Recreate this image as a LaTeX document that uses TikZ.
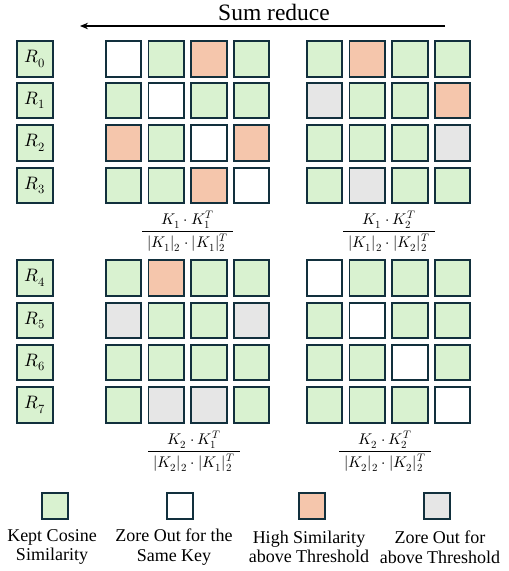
\documentclass[tikz,border=0pt]{standalone}
\usepackage{unicode-math}
\setmainfont{Liberation Serif}
\setmathfont{Latin Modern Math}
\usetikzlibrary{arrows.meta}
\definecolor{cG}{HTML}{D9F2D0}
\definecolor{cO}{HTML}{F5C6AC}
\definecolor{cX}{HTML}{E6E6E6}
\definecolor{cW}{HTML}{FFFFFF}
\definecolor{edgec}{HTML}{12303D}
\tikzset{
  cell/.style={draw=edgec, line width=1.9pt, minimum size=35.5pt, inner sep=0pt, fill=#1},
  lcell/.style={draw=edgec, line width=1.6pt, minimum size=26pt, inner sep=0pt, fill=#1},
  rlab/.style={font=\fontsize{18}{20}\selectfont},
  fracpart/.style={font=\fontsize{15.5}{18}\selectfont, anchor=base, inner sep=0pt},
  fracbar/.style={line width=0.8pt},
  legtxt/.style={font=\fontsize{18}{19.5}\selectfont, align=center},
}
\begin{document}
\begin{tikzpicture}[x=1pt,y=-1pt]
\useasboundingbox (0,0) rectangle (509,571);
% title and arrow
\node[font=\fontsize{23.5}{26}\selectfont] (title) at (274,12) {Sum reduce};
\coordinate (arrS) at (445,26);
\coordinate (arrE) at (80,26);
\draw[line width=1.2pt, -{Stealth[length=8pt,width=6.5pt]}] (arrS) -- (arrE);
% row labels
\foreach \r/\y in {0/59,1/100.5,2/143,3/185.5,4/278,5/320.5,6/362.5,7/405}{
  \node[cell=cG, rlab] (R\r) at (35,\y) {$R_{\r}$};
}
% grids
\foreach \r/\y/\a/\b/\c/\d/\e/\f/\g/\h in {
  0/59/cW/cG/cO/cG/cG/cO/cG/cG,
  1/100.5/cG/cW/cG/cG/cX/cG/cG/cO,
  2/143/cO/cG/cW/cO/cG/cG/cG/cX,
  3/185.5/cG/cG/cO/cW/cG/cX/cG/cG,
  4/278/cG/cO/cG/cG/cW/cG/cG/cG,
  5/320.5/cX/cG/cG/cX/cG/cW/cG/cG,
  6/362.5/cG/cG/cG/cG/cG/cG/cW/cG,
  7/405/cG/cX/cX/cG/cG/cG/cG/cW}{
  \node[cell=\a] (L\r-0) at (123.5,\y) {};
  \node[cell=\b] (L\r-1) at (166.2,\y) {};
  \node[cell=\c] (L\r-2) at (208.8,\y) {};
  \node[cell=\d] (L\r-3) at (251.5,\y) {};
  \node[cell=\e] (G\r-0) at (324.5,\y) {};
  \node[cell=\f] (G\r-1) at (367.2,\y) {};
  \node[cell=\g] (G\r-2) at (409.8,\y) {};
  \node[cell=\h] (G\r-3) at (452.5,\y) {};
}
% fractions: numerator, bar, denominator
\foreach \n/\cx/\by/\hw/\a/\b in {11/187.5/231/45.5/1/1, 12/389/231/46/1/2, 21/194/451/46/2/1, 22/385/451/46/2/2}{
  \node[fracpart] (num\n) at (\cx,\by-6.5) {$K_{\a}\cdot K_{\b}^{T}$};
  \node[fracpart] (den\n) at (\cx,\by+16.5) {$|K_{\a}|_{2}\cdot |K_{\b}|_{2}^{T}$};
  \coordinate (barL\n) at (\cx-\hw,\by);
  \coordinate (barR\n) at (\cx+\hw,\by);
  \draw[fracbar] (barL\n) -- (barR\n);
}
% legend
\node[lcell=cG] (lg1) at (55,506) {};
\node[lcell=cW] (lg2) at (180,506) {};
\node[lcell=cO] (lg3) at (312,506) {};
\node[lcell=cX] (lg4) at (437,506) {};
\node[legtxt] (lt1) at (52,547) {Kept Cosine\\Similarity};
\node[legtxt] (lt2) at (174,547) {Zore Out for the\\Same Key};
\node[legtxt] (lt3) at (309,547) {High Similarity\\above Threshold};
\node[legtxt] (lt4) at (440,547) {Zore Out for\\above Threshold};
\end{tikzpicture}
\end{document}
